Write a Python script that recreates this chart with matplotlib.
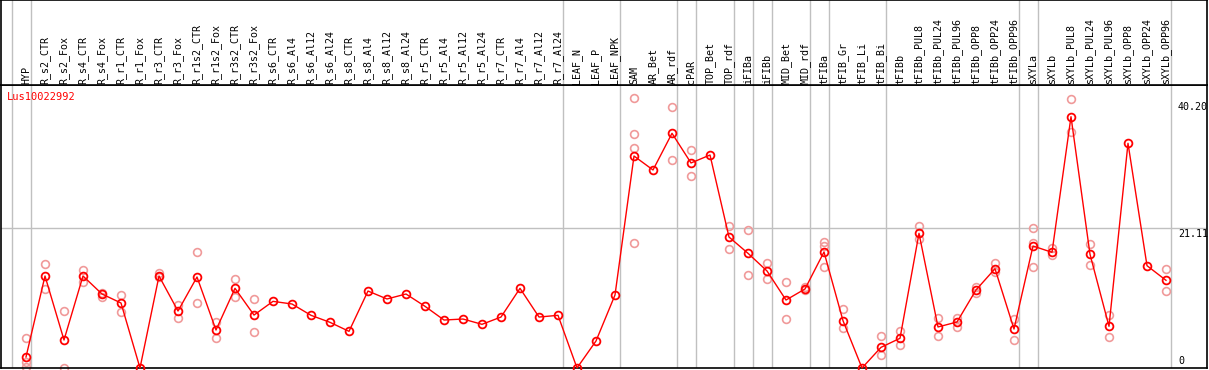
import numpy as np
import matplotlib
matplotlib.use('Agg')
import matplotlib.pyplot as plt

# sample names (one column each)
labels = ['HYP', 'R_s2_CTR', 'R_s2_Fox', 'R_s4_CTR', 'R_s4_Fox', 'R_r1_CTR', 'R_r1_Fox',
          'R_r3_CTR', 'R_r3_Fox', 'R_r1s2_CTR', 'R_r1s2_Fox', 'R_r3s2_CTR', 'R_r3s2_Fox',
          'R_s6_CTR', 'R_s6_Al4', 'R_s6_Al12', 'R_s6_Al24', 'R_s8_CTR', 'R_s8_Al4', 'R_s8_Al12',
          'R_s8_Al24', 'R_r5_CTR', 'R_r5_Al4', 'R_r5_Al12', 'R_r5_Al24', 'R_r7_CTR', 'R_r7_Al4',
          'R_r7_Al12', 'R_r7_Al24', 'LEAF_N', 'LEAF_P', 'LEAF_NPK', 'SAM', 'AR_Bet', 'AR_rdf',
          'cPAR', 'TOP_Bet', 'TOP_rdf', 'iFIBa', 'iFIBb', 'MID_Bet', 'MID_rdf', 'tFIBa',
          'tFIB_Gr', 'tFIB_Li', 'tFIB_Bi', 'tFIBb', 'tFIBb_PUL8', 'tFIBb_PUL24', 'tFIBb_PUL96',
          'tFIBb_OPP8', 'tFIBb_OPP24', 'tFIBb_OPP96', 'sXYLa', 'sXYLb', 'sXYLb_PUL8',
          'sXYLb_PUL24', 'sXYLb_PUL96', 'sXYLb_OPP8', 'sXYLb_OPP24', 'sXYLb_OPP96']

# mean expression per sample
means = [1.66, 13.9, 4.23, 13.9, 11.18, 9.82, 0, 13.9, 8.61, 13.75, 5.74, 12.04, 8.0,
         10.07, 9.67, 7.96, 6.9, 5.54, 11.63, 10.43, 11.18, 9.32, 7.25, 7.4, 6.6, 7.7,
         12.04, 7.7, 7.96, 0, 4.08, 11.03, 32.03, 29.92, 35.46, 30.98, 32.18, 19.79, 17.33,
         14.66, 10.27, 11.94, 17.53, 7.15, 0, 3.12, 4.49, 20.35, 6.2, 6.95, 11.79, 15.0,
         5.89, 18.43, 17.48, 37.97, 17.18, 6.3, 33.95, 15.46, 13.25]

# replicate values per sample (empty where none visible)
reps = [[4.5, 0.95, 0.2], [15.7, 12.0], [8.6, 0.0], [14.8, 13.0], [10.7, 11.3],
        [11.0, 8.4], [], [14.3, 13.7], [9.5, 7.5], [17.6, 9.8], [7.0, 4.5], [13.4, 10.7],
        [10.4, 5.5], [], [], [], [], [], [], [], [], [], [], [], [], [], [], [], [], [], [],
        [], [40.75, 35.3, 33.2, 18.9], [], [39.4, 31.4], [32.9, 29.0], [], [21.5, 18.0],
        [20.8, 14.05], [15.9, 13.4], [13.0, 7.4], [12.2, 11.8], [19.0, 18.5, 15.3],
        [8.9, 6.0], [], [4.9, 2.0], [5.6, 3.4], [21.5, 19.5], [7.6, 4.9], [7.5, 6.25],
        [12.2, 11.4], [15.8, 14.55], [7.45, 4.3], [21.1, 18.9, 15.2], [18.2, 17.0],
        [40.6, 35.7], [18.8, 15.5], [8.0, 4.7], [], [], [14.9, 11.6]]

# group separators (after these column indices)
group_ends = [-1, 0, 28, 31, 34, 35, 37, 38, 39, 41, 42, 45, 52, 53, 60]

gene = 'Lus10022992'
tick_vals = [40.20, 21.11, 0]
y_top = 42.76

W, H = 1209, 370
fig = plt.figure(figsize=(W / 100, H / 100), dpi=100)
xlim = (-25 / 19, 1181 / 19)

ax = fig.add_axes([1 / W, 2 / H, 1206 / W, 283 / H])
axh = fig.add_axes([1 / W, 285 / H, 1206 / W, 85 / H])

for a in (ax, axh):
    a.set_xlim(*xlim)
    a.set_xticks([])
    a.set_yticks([])
    for s in a.spines.values():
        s.set_color('black')
        s.set_linewidth(1.2)
    for g in group_ends:
        a.axvline(g + 0.25, color='#c0c0c0', lw=1, zorder=1)

ax.set_ylim(0, y_top)
ax.axhline(tick_vals[1], color='#c0c0c0', lw=1, zorder=1)

x = np.arange(len(labels))
for i, r in enumerate(reps):  # replicate circles
    if r:
        ax.plot([i] * len(r), r, 'o', ms=5.6, mfc='none', mec='#f09a9a', mew=1.2,
                zorder=2, clip_on=False)
ax.plot(x, means, '-', color='red', lw=1, zorder=3, clip_on=False)
ax.plot(x, means, 'o', ms=5.6, mfc='none', mec='red', mew=1.3, zorder=4, clip_on=False)

# header labels
axh.set_ylim(85, 0)
for i, lab in enumerate(labels):
    axh.text(i, 83.5, lab, rotation=90, ha='center', va='bottom',
             family='DejaVu Sans Mono', fontsize=7.2)

fig.text(7 / W, 1 - 97 / H, gene, color='red', va='center', ha='left',
         family='DejaVu Sans Mono', fontsize=7.5)
fig.text(1178 / W, 1 - 102 / H, '%.2f' % tick_vals[0], va='top', ha='left',
         family='DejaVu Sans Mono', fontsize=7.2)
fig.text(1178 / W, 1 - 229 / H, '%.2f' % tick_vals[1], va='top', ha='left',
         family='DejaVu Sans Mono', fontsize=7.2)
fig.text(1178 / W, 1 - 366 / H, '0', va='bottom', ha='left',
         family='DejaVu Sans Mono', fontsize=7.2)

fig.savefig('out.png', dpi=100)
